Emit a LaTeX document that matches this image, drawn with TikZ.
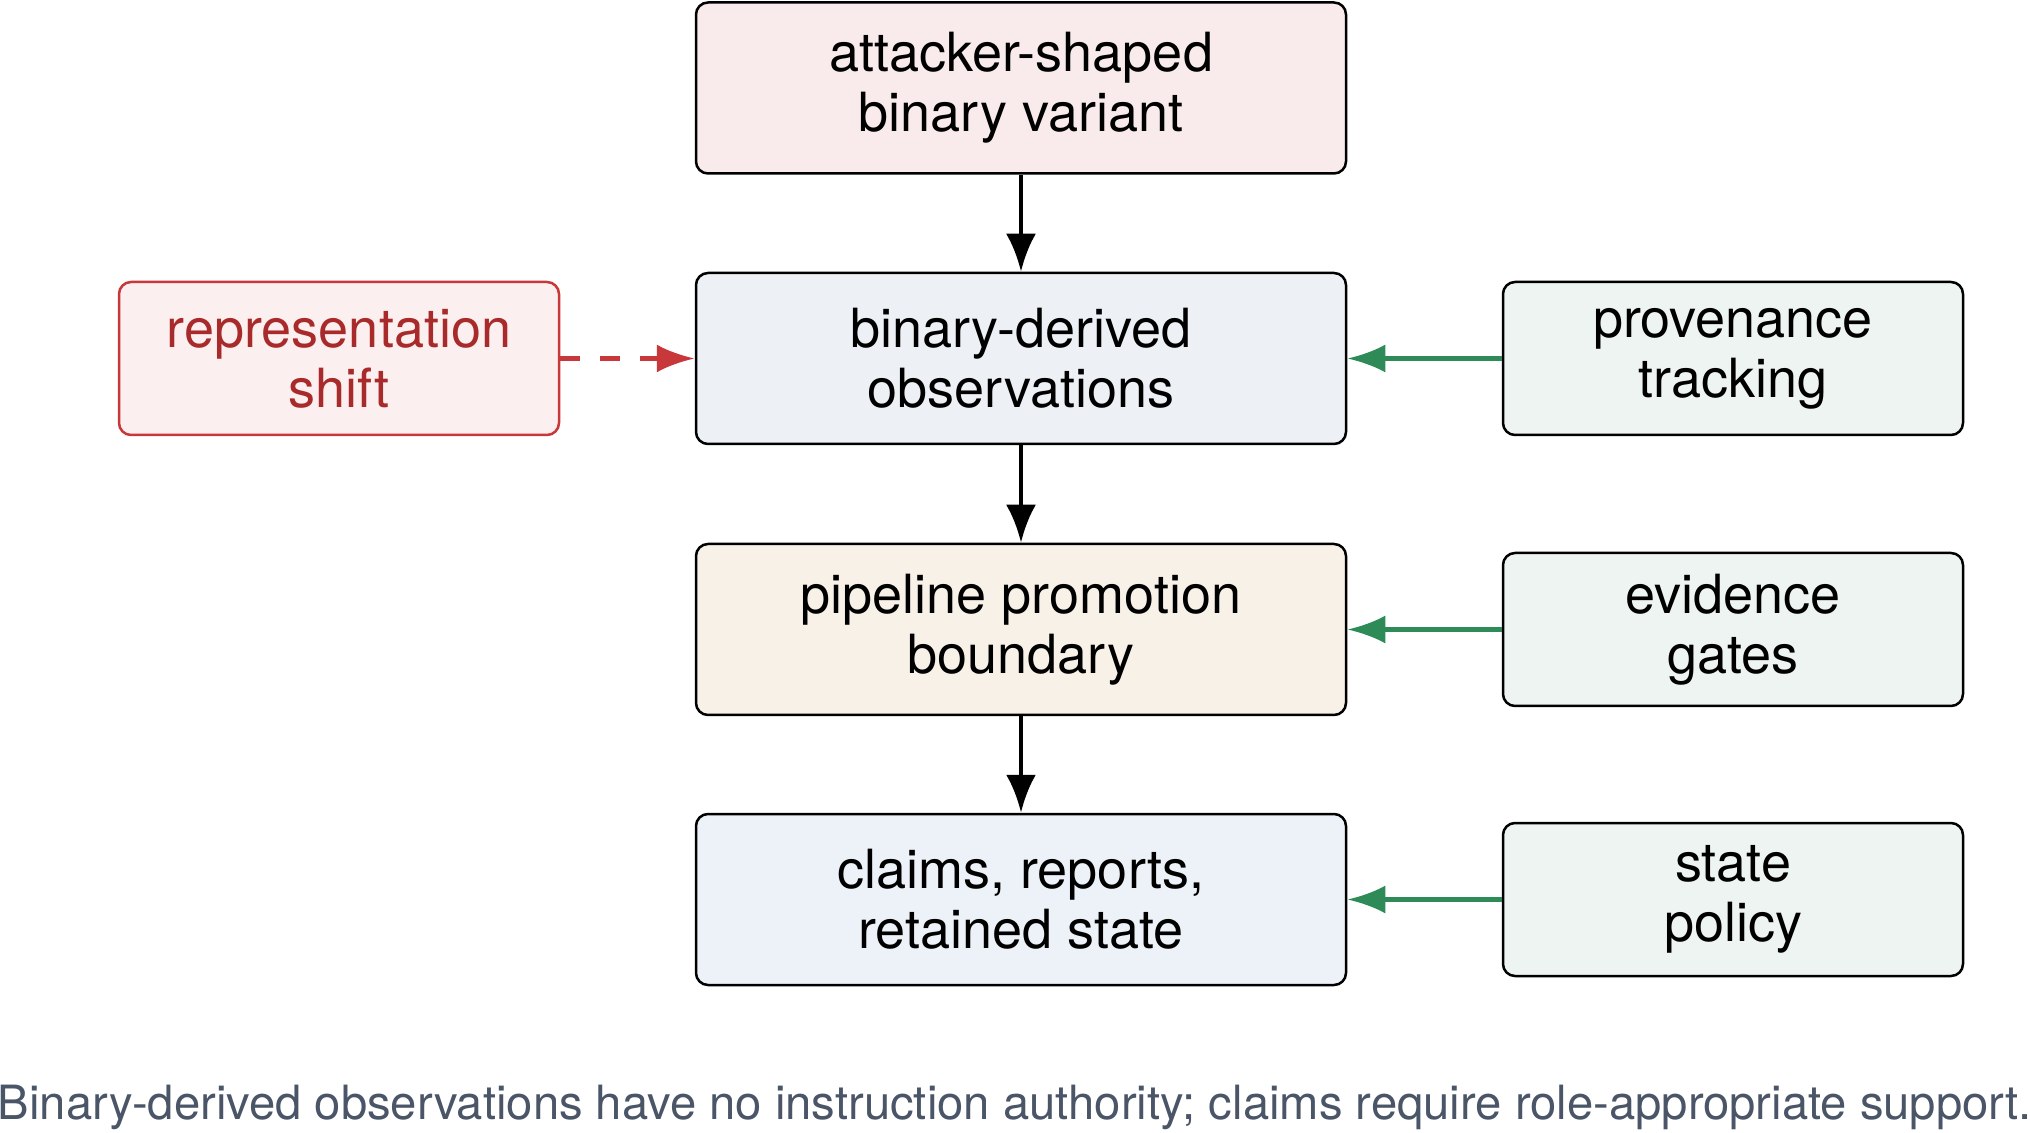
\documentclass[tikz,border=0pt]{standalone}
\usepackage{fontspec}
\setmainfont{TeX Gyre Heros}
\usetikzlibrary{arrows.meta}
\definecolor{topfill}{HTML}{F9EBEB}
\definecolor{obsfill}{HTML}{EDF1F5}
\definecolor{pipefill}{HTML}{F8F1E8}
\definecolor{claimfill}{HTML}{EDF2F9}
\definecolor{ctlfill}{HTML}{EEF4F1}
\definecolor{repfill}{HTML}{FBEFEF}
\definecolor{repline}{HTML}{C8373A}
\definecolor{reptext}{HTML}{A82A2A}
\definecolor{ctlgreen}{HTML}{2E8B57}
\definecolor{capgray}{HTML}{4A5568}
\tikzset{
  box/.style={draw=black, line width=1.25pt, rounded corners=6pt, align=center,
    font=\fontsize{27}{30}\selectfont, inner sep=0pt},
  mainbox/.style={box, minimum width=325pt, minimum height=85.5pt},
  ctlbox/.style={box, fill=ctlfill, minimum width=230pt, minimum height=76.5pt},
  repbox/.style={box, draw=repline, fill=repfill, text=reptext, minimum width=220pt, minimum height=76.5pt},
  flow/.style={line width=2.4pt, -{Latex[length=19pt,width=15pt]}},
  ctl/.style={draw=ctlgreen, line width=2.4pt, -{Latex[length=19pt,width=14pt]}},
  shiftarrow/.style={draw=repline, line width=2.4pt, dash pattern=on 10pt off 10pt, -{Latex[length=19pt,width=14pt]}},
}
\begin{document}
\begin{tikzpicture}[x=0.5pt,y=-0.5pt]
\useasboundingbox (0,0) rectangle (2030,1133);
\node[mainbox, fill=topfill] (top) at (1021,88) {attacker-shaped\\binary variant};
\node[mainbox, fill=obsfill] (obs) at (1021,358.5) {binary-derived\\observations};
\node[mainbox, fill=pipefill] (pipe) at (1021,629.5) {pipeline promotion\\boundary};
\node[mainbox, fill=claimfill] (claims) at (1021,899.5) {claims, reports,\\retained state};
\node[repbox] (rep) at (339,358.5) {representation\\shift};
\node[ctlbox] (prov) at (1733,358.5) {provenance\\tracking};
\node[ctlbox] (gates) at (1733,629.5) {evidence\\gates};
\node[ctlbox] (policy) at (1733,899.5) {state\\policy};
\draw[flow] (top) -- (obs);
\draw[flow] (obs) -- (pipe);
\draw[flow] (pipe) -- (claims);
\draw[ctl] (prov) -- (obs);
\draw[ctl] (gates) -- (pipe);
\draw[ctl] (policy) -- (claims);
\draw[shiftarrow] (rep) -- (obs);
\node[anchor=base, text=capgray, font=\fontsize{23.6}{28}\selectfont, inner sep=0pt] (cap) at (1015,1119) {Binary-derived observations have no instruction authority; claims require role-appropriate support.};
\end{tikzpicture}
\end{document}
